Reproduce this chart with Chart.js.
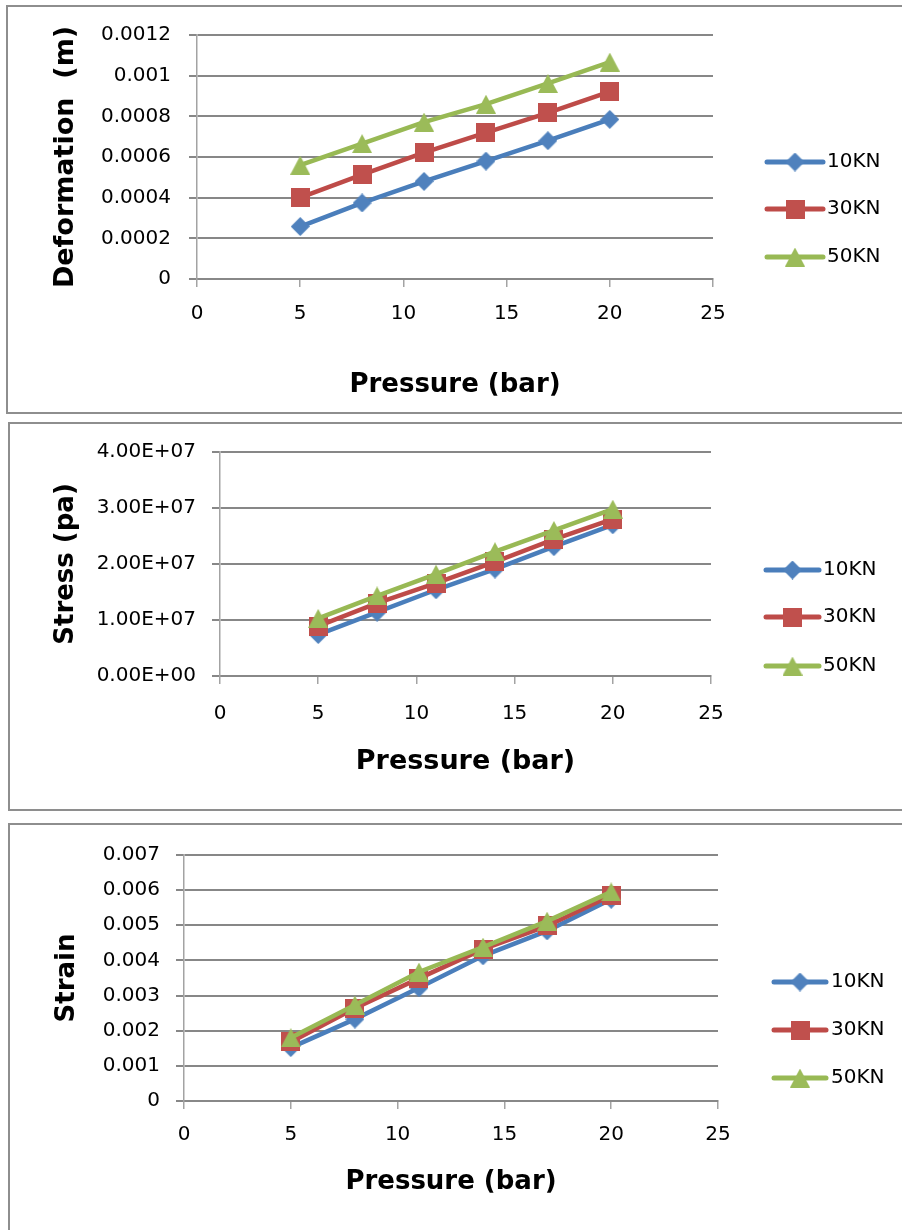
<!DOCTYPE html>
<html>
<head>
<meta charset="utf-8">
<script src="https://cdn.jsdelivr.net/npm/chart.js@4.4.0/dist/chart.umd.min.js"></script>
<style>
  html, body { margin: 0; padding: 0; background: #fff; }
  body { width: 902px; height: 1230px; position: relative; overflow: hidden; }
  .frame { position: absolute; border: 2px solid #8e8e8e; box-sizing: border-box; }
  .wrap { position: absolute; left: 0; width: 902px; }
</style>
</head>
<body>
<div class="frame" style="left:6px;top:5px;width:1000px;height:409px"></div>
<div class="frame" style="left:8px;top:422px;width:1000px;height:389px"></div>
<div class="frame" style="left:8px;top:823px;width:1000px;height:500px"></div>
<div class="wrap" style="top:0;height:418px"><canvas id="deformChart"></canvas></div>
<div class="wrap" style="top:418px;height:400px"><canvas id="stressChart"></canvas></div>
<div class="wrap" style="top:818px;height:412px"><canvas id="strainChart"></canvas></div>
<script>
// data
const pressure = [5, 8, 11, 14, 17, 20];
const seriesNames = ['10KN', '30KN', '50KN'];

const deformation10 = [0.000258, 0.000374, 0.00048, 0.00058, 0.00068, 0.000785];
const deformation30 = [0.0004, 0.000513, 0.000622, 0.00072, 0.000817, 0.000922];
const deformation50 = [0.00056, 0.000666, 0.000772, 0.00086, 0.000962, 0.001067];

const stress10 = [7.4e6, 1.14e7, 1.54e7, 1.91e7, 2.31e7, 2.70e7];
const stress30 = [8.9e6, 1.30e7, 1.66e7, 2.04e7, 2.44e7, 2.80e7];
const stress50 = [1.03e7, 1.43e7, 1.82e7, 2.22e7, 2.60e7, 2.98e7];

const strain10 = [0.00152, 0.00233, 0.00322, 0.00413, 0.00484, 0.00574];
const strain30 = [0.00168, 0.00264, 0.00349, 0.00432, 0.00498, 0.00585];
const strain50 = [0.00180, 0.00273, 0.00367, 0.00438, 0.00512, 0.00595];

const xTickValues = [0, 5, 10, 15, 20, 25];
const xTickLabels = ['0', '5', '10', '15', '20', '25'];
const deformTickValues = [0, 0.0002, 0.0004, 0.0006, 0.0008, 0.001, 0.0012];
const deformTickLabels = ['0', '0.0002', '0.0004', '0.0006', '0.0008', '0.001', '0.0012'];
const stressTickValues = [0, 1e7, 2e7, 3e7, 4e7];
const stressTickLabels = ['0.00E+00', '1.00E+07', '2.00E+07', '3.00E+07', '4.00E+07'];
const strainTickValues = [0, 0.001, 0.002, 0.003, 0.004, 0.005, 0.006, 0.007];
const strainTickLabels = ['0', '0.001', '0.002', '0.003', '0.004', '0.005', '0.006', '0.007'];

// look
const lineColors = ['#4a7ebb', '#be4b48', '#98b954'];
const markerColors = ['#4f81bd', '#c0504d', '#9bbb59'];

Chart.defaults.font.family = '"DejaVu Sans"';
Chart.defaults.color = '#000';

function markerImage(shape, color, w, h) {
  const c = document.createElement('canvas');
  c.width = w; c.height = h;
  const g = c.getContext('2d');
  g.fillStyle = color;
  g.beginPath();
  if (shape === 'diamond') {
    g.moveTo(w / 2, 0); g.lineTo(w, h / 2); g.lineTo(w / 2, h); g.lineTo(0, h / 2);
  } else if (shape === 'square') {
    g.rect(0, 0, w, h);
  } else {
    g.moveTo(w / 2, 0); g.lineTo(w, h); g.lineTo(0, h);
  }
  g.closePath();
  g.fill();
  return c;
}

const markers = [
  markerImage('diamond', markerColors[0], 19, 19),
  markerImage('square', markerColors[1], 19, 19),
  markerImage('triangle', markerColors[2], 20, 19)
];

function excelLegend(pos) {
  return {
    id: 'excelLegend',
    afterDraw(chart) {
      const ctx = chart.ctx;
      chart.data.datasets.forEach((ds, i) => {
        const y = pos.ys[i];
        ctx.save();
        ctx.strokeStyle = ds.borderColor;
        ctx.lineWidth = 5;
        ctx.lineCap = 'round';
        ctx.beginPath();
        ctx.moveTo(pos.x1, y);
        ctx.lineTo(pos.x2, y);
        ctx.stroke();
        const img = ds.pointStyle;
        ctx.drawImage(img, (pos.x1 + pos.x2) / 2 - img.width / 2, y - img.height / 2);
        ctx.fillStyle = '#000';
        ctx.font = '20px "DejaVu Sans"';
        ctx.textBaseline = 'middle';
        ctx.fillText(ds.label, pos.textX, y);
        ctx.restore();
      });
    }
  };
}

function makeChart(id, o) {
  const datasets = o.series.map((vals, i) => ({
    label: seriesNames[i],
    data: pressure.map((p, j) => ({ x: p, y: vals[j] })),
    borderColor: lineColors[i],
    backgroundColor: markerColors[i],
    borderWidth: 4.5,
    pointStyle: markers[i],
    pointRadius: 10,
    tension: 0,
    order: 3 - i
  }));

  return new Chart(document.getElementById(id), {
    type: 'line',
    data: { datasets: datasets },
    options: {
      responsive: true,
      maintainAspectRatio: false,
      animation: false,
      layout: { padding: { left: 0, top: o.area.top, right: 902 - o.area.right, bottom: 0 } },
      plugins: { legend: { display: false }, tooltip: { enabled: false } },
      scales: {
        x: {
          type: 'linear',
          min: 0,
          max: 25,
          afterBuildTicks: s => { s.ticks = xTickValues.map(v => ({ value: v })); },
          afterFit: s => { s.height = o.height - o.area.bottom; },
          grid: { drawOnChartArea: false, drawTicks: true, tickLength: 8, color: '#a3a3a3', lineWidth: 1.5 },
          border: { color: '#888888', width: 2 },
          ticks: {
            padding: o.xTickPad,
            font: { size: 20 },
            maxRotation: 0,
            autoSkip: false,
            callback: (v, i) => xTickLabels[i]
          },
          title: {
            display: true,
            text: 'Pressure (bar)',
            font: { size: o.xTitleSize, weight: 'bold' },
            padding: { top: 0, bottom: o.xTitlePad }
          }
        },
        y: {
          min: 0,
          max: o.yTicks[o.yTicks.length - 1],
          afterBuildTicks: s => { s.ticks = o.yTicks.map(v => ({ value: v })); },
          afterFit: s => { s.width = o.area.left; },
          grid: { color: '#878787', lineWidth: 2, tickLength: 8 },
          border: { color: '#a3a3a3', width: 1.5 },
          ticks: {
            padding: o.yTickPad,
            font: { size: 20 },
            autoSkip: false,
            callback: (v, i) => o.yLabels[i]
          },
          title: {
            display: true,
            text: o.yTitle,
            font: { size: o.yTitleSize, weight: 'bold' },
            padding: { top: o.yTitlePad, bottom: 0 }
          }
        }
      }
    },
    plugins: [excelLegend(o.legend)]
  });
}

makeChart('deformChart', {
  series: [deformation10, deformation30, deformation50],
  yTicks: deformTickValues,
  yLabels: deformTickLabels,
  yTitle: 'Deformation  (m)',
  height: 418,
  area: { left: 197, right: 713, top: 35, bottom: 279 },
  xTickPad: 15, yTickPad: 18,
  xTitleSize: 26, xTitlePad: 17,
  yTitleSize: 27, yTitlePad: 50,
  legend: { x1: 767, x2: 823, textX: 827, ys: [162, 209, 257] }
});

makeChart('stressChart', {
  series: [stress10, stress30, stress50],
  yTicks: stressTickValues,
  yLabels: stressTickLabels,
  yTitle: 'Stress (pa)',
  height: 400,
  area: { left: 220, right: 711, top: 34, bottom: 258 },
  xTickPad: 18, yTickPad: 16,
  xTitleSize: 27, xTitlePad: 40,
  yTitleSize: 26, yTitlePad: 51,
  legend: { x1: 766, x2: 819, textX: 823, ys: [152, 199, 248] }
});

makeChart('strainChart', {
  series: [strain10, strain30, strain50],
  yTicks: strainTickValues,
  yLabels: strainTickLabels,
  yTitle: 'Strain',
  height: 412,
  area: { left: 184, right: 718, top: 37, bottom: 283 },
  xTickPad: 14, yTickPad: 16,
  xTitleSize: 26, xTitlePad: 32,
  yTitleSize: 26, yTitlePad: 52,
  legend: { x1: 774, x2: 826, textX: 831, ys: [164, 212, 260] }
});
</script>
</body>
</html>
